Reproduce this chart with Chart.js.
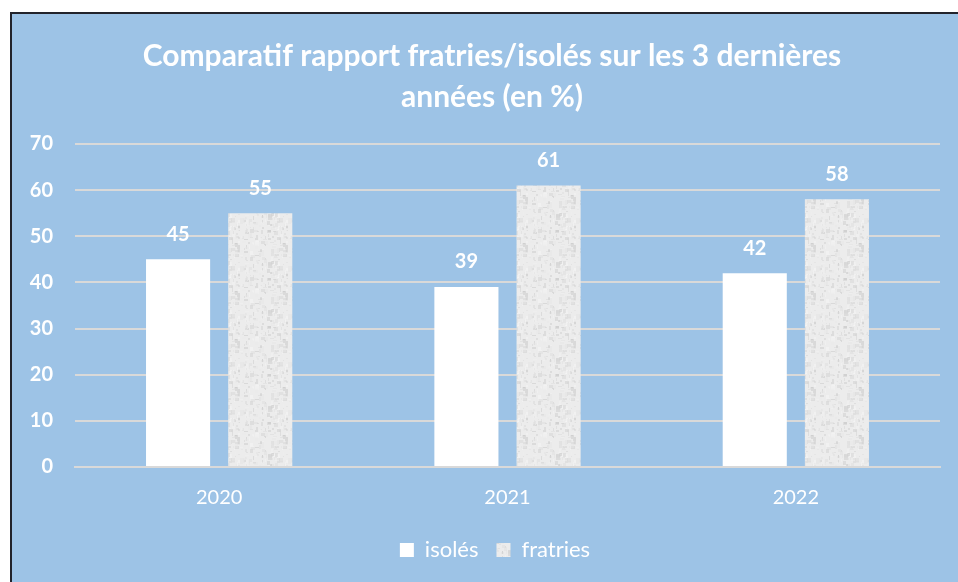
<!DOCTYPE html>
<html>
<head>
<meta charset="utf-8">
<script src="https://cdn.jsdelivr.net/npm/chart.js@4"></script>
<style>
  html, body { margin: 0; padding: 0; background: #fff; }
  #cadre {
    position: absolute; left: 10px; top: 12px; width: 948px; height: 570px;
    background: #9DC3E6; border-left: 2px solid #22232b; border-top: 2px solid #22232b;
  }
  #zone { position: absolute; left: 0; top: 0; width: 958px; height: 582px; }
</style>
</head>
<body>
<div id="cadre"></div>
<div id="zone"><canvas id="grafico" width="958" height="582"></canvas></div>
<script>
const annees = ["2020", "2021", "2022"];
const isoles = [45, 39, 42];
const fratries = [55, 61, 58];
const titre = ["Comparatif rapport fratries/isolés sur les 3 dernières", "années (en %)"];
const police = "Lato, 'Open Sans', sans-serif";

// texture grise façon papier pour les fratries (générateur déterministe)
function texture() {
  const c = document.createElement("canvas");
  c.width = 48; c.height = 48;
  const g = c.getContext("2d");
  g.fillStyle = "#ECECEC";
  g.fillRect(0, 0, 48, 48);
  let s = 12345;
  const rnd = () => { s = (s * 1103515245 + 12345) % 2147483648; return s / 2147483648; };
  for (let i = 0; i < 220; i++) {
    const v = 195 + Math.floor(rnd() * 55);
    g.fillStyle = `rgba(${v},${v},${v},0.45)`;
    g.fillRect(Math.floor(rnd() * 48), Math.floor(rnd() * 48), 1 + Math.floor(rnd() * 4), 1 + Math.floor(rnd() * 4));
  }
  return g.createPattern(c, "repeat");
}
const motif = texture();

// titre centré sur le cadre bleu (et pas sur la zone du canvas)
const titreCadre = {
  id: "titreCadre",
  afterDraw(chart) {
    const ctx = chart.ctx;
    ctx.save();
    ctx.fillStyle = "#fff";
    ctx.font = "bold 30px " + police;
    ctx.textAlign = "center";
    ctx.textBaseline = "middle";
    titre.forEach((ligne, i) => ctx.fillText(ligne, 492, 56 + i * 41));
    ctx.restore();
  },
  // la légende est elle aussi centrée sur le cadre
  afterLayout(chart) {
    chart.legend.left += 25;
    chart.legend.right += 25;
  }
};

const etiquettes = {
  id: "etiquettes",
  afterDatasetsDraw(chart) {
    const ctx = chart.ctx;
    ctx.save();
    ctx.fillStyle = "#fff";
    ctx.font = "bold 20px " + police;
    ctx.textAlign = "center";
    ctx.textBaseline = "middle";
    chart.data.datasets.forEach((ds, i) => {
      chart.getDatasetMeta(i).data.forEach((bar, j) => {
        ctx.fillText(ds.data[j], bar.x, bar.y - 25);
      });
    });
    ctx.restore();
  }
};

const ctx = document.getElementById("grafico").getContext("2d");
new Chart(ctx, {
  type: "bar",
  data: {
    labels: annees,
    datasets: [
      { label: "isolés", data: isoles, backgroundColor: "#FFFFFF", borderWidth: 0 },
      { label: "fratries", data: fratries, backgroundColor: motif, borderWidth: 0 }
    ]
  },
  options: {
    responsive: false,
    animation: false,
    layout: { padding: { top: 144, right: 18, bottom: 11, left: 0 } },
    datasets: { bar: { categoryPercentage: 0.57, barPercentage: 0.78 } },
    plugins: {
      title: { display: false },
      legend: {
        position: "bottom",
        labels: {
          color: "#fff",
          font: { family: police, size: 22 },
          boxWidth: 14, boxHeight: 14, padding: 18
        }
      },
      tooltip: { enabled: false }
    },
    scales: {
      x: {
        grid: { display: false },
        border: { color: "#D9D9D9", width: 2 },
        ticks: { color: "#fff", font: { family: police, size: 20 }, padding: 11 }
      },
      y: {
        min: 0, max: 70,
        afterFit: s => { s.width = 75; },
        grid: { color: "#D9D9D9", lineWidth: 2, drawTicks: false },
        border: { display: false },
        ticks: { stepSize: 10, color: "#fff", font: { family: police, size: 20, weight: "bold" }, padding: 22 }
      }
    }
  },
  plugins: [etiquettes, titreCadre]
});
</script>
</body>
</html>
